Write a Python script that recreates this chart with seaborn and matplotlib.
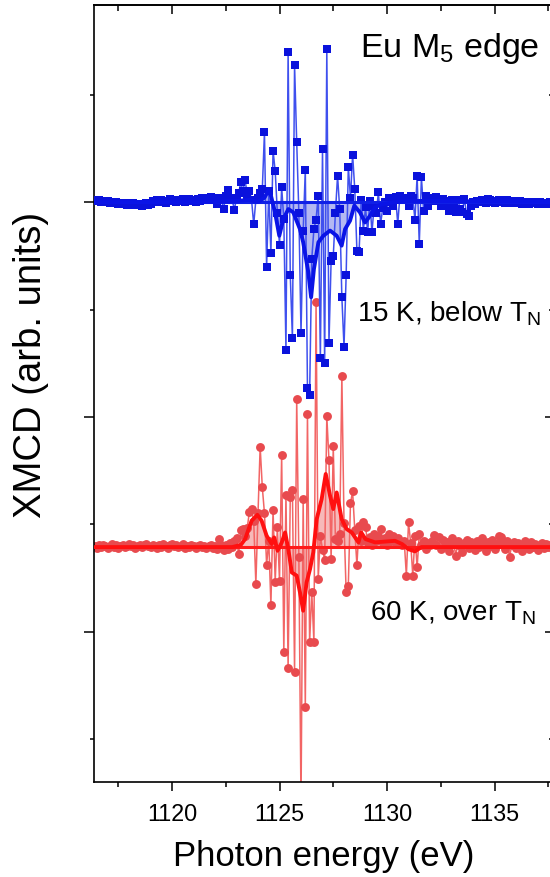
import numpy as np
import pandas as pd
import matplotlib
matplotlib.use("Agg")
import matplotlib.pyplot as plt
from matplotlib.ticker import MultipleLocator, NullFormatter
import seaborn as sns

# ---------------- data ----------------
E_START = 1116.4
E_STEP = 0.1

# 15 K (blue), XMCD values in arb. units, three consecutive energy segments
blue_left = [0.10, 0.05, 0.08, 0.02, 0.06, 0.00, 0.04, -0.03, 0.02, -0.05,
             -0.02, -0.08, -0.04, -0.10, -0.06, -0.12, -0.08, -0.14, -0.05, -0.10,
             -0.15, -0.08, -0.18, -0.10, -0.05, -0.15, -0.08, 0.05, -0.02, 0.08,
             0.02, 0.10, 0.04, -0.04, 0.06, 0.12, 0.03, 0.08, -0.02, 0.10,
             0.05, 0.12, 0.02, 0.08, 0.15, 0.05, 0.10, 0.00, 0.12, 0.06,
             0.18, 0.08, 0.20, 0.10, 0.25, 0.12]
blue_center = [0.10, -0.10, 0.20, 0.10, -0.33, 0.30, 0.56, 0.20, 0.10, -0.37,
               0.20, 0.40, 0.92, 0.50, 1.04, 0.30, 0.53, 0.10, -1.04, 0.10,
               0.20, 0.40, 0.60, 3.24, -3.04, 0.50, -2.39, 2.39, 1.43, -0.50,
               -1.99, 0.68, -0.80, -6.88, 6.99, -3.40, -6.33, 6.37, 2.78, -0.50,
               -6.09, -1.35, 1.50, -8.65, -9.00, -2.65, -1.26, -0.82, 0.30, -7.27,
               2.47, -7.49, 7.12, -6.56, -2.74, -2.53, -0.50, 1.22, -0.33, -4.43,
               -6.73, -3.40, 1.64, 0.20, 2.20, 0.60, -2.26, -2.34, 0.10, -1.33,
               -0.25, -1.41, 0.06, -1.41, -0.20, -0.50, 0.45, -1.02, -0.30, 0.00,
               -0.40, 0.20, 0.17, -0.20, 0.23, -1.02, 0.30, 0.10, 0.20, 0.15,
               -0.20, 0.30, 0.20, -0.84, 1.22, -1.95, 1.15, -0.40, 0.30, -0.20,
               0.20]
blue_right = [0.15, 0.05, 0.22, 0.10, -0.17, 0.12, 0.05, -0.05, -0.40, 0.08,
              -0.30, -0.45, 0.10, -0.33, -0.48, 0.14, -0.56, -0.64, -0.20, 0.02,
              -0.10, 0.05, 0.00, 0.10, 0.06, -0.05, 0.14, 0.08, 0.02, -0.06,
              0.05, 0.10, 0.00, 0.06, -0.04, 0.08, 0.02, -0.06, 0.04, 0.00,
              -0.05, 0.03, -0.08, 0.02, -0.04, -0.10, 0.00, -0.06, -0.02, -0.08,
              0.00, -0.05, -0.10, -0.04, -0.08, -0.02, -0.06]

# 60 K (red)
red_left = [0.05, -0.02, 0.08, 0.00, 0.10, 0.04, -0.04, 0.06, 0.12, 0.02,
            0.08, -0.05, 0.05, 0.10, 0.00, 0.07, 0.13, 0.03, 0.09, -0.03,
            0.05, 0.11, 0.02, 0.08, 0.15, 0.04, 0.00, 0.10, 0.06, -0.04,
            0.08, 0.02, 0.12, 0.05, -0.02, 0.09, 0.16, 0.04, 0.10, 0.00,
            0.06, 0.12, -0.03, 0.07, 0.02, 0.10, 0.05, -0.05, 0.04, 0.09,
            0.00, 0.06, -0.04, 0.03, 0.08, -0.02]
red_center = [0.05, -0.10, 0.37, 0.10, -0.15, 0.10, -0.10, 0.20, 0.00, 0.30,
              0.42, -0.33, 0.80, 0.84, 0.50, 0.90, 1.64, 1.77, 1.20, -1.72,
              1.57, 4.67, 2.78, 1.57, -0.82, 0.30, -2.70, 1.73, -1.61, 0.92,
              -1.57, 4.29, -4.90, 2.43, -5.64, 2.31, 2.65, -5.80, 6.88, -0.48,
              -12.0, 2.23, -7.46, 6.19, -4.43, -2.08, -4.43, 11.38, -1.49, 0.53,
              -0.12, -0.60, 6.08, 4.05, -0.56, 4.68, 0.37, 0.29, 0.60, 7.97,
              1.12, -2.11, -1.80, 2.03, 2.59, 0.80, -0.84, 0.99, 0.30, 1.18,
              0.94, 0.20, 0.45, 0.10, 0.60, 0.30, 0.50, 0.84, 0.20, 0.40,
              0.10, 0.60, 0.30, 0.50, 0.20, 0.40, 0.15, 0.10, 0.30, -1.33,
              1.15, 0.20, -1.33, 0.53, -0.95, 0.60, 0.10, 0.30, -0.10, 0.20,
              0.10]
red_right = [0.30, 0.55, 0.10, 0.46, -0.10, 0.35, 0.05, 0.25, -0.20, 0.40,
             0.15, -0.40, 0.30, 0.05, -0.23, 0.20, 0.35, -0.05, 0.25, 0.10,
             -0.15, 0.30, 0.00, 0.40, 0.10, -0.20, 0.25, 0.05, 0.35, -0.10,
             0.15, 0.50, 0.46, 0.20, -0.10, 0.30, -0.46, 0.10, 0.25, -0.05,
             0.20, 0.05, -0.20, 0.30, 0.10, -0.10, 0.25, 0.00, 0.15, -0.15,
             0.10, 0.20, -0.05, 0.15, 0.00, 0.10, -0.10]

# smoothed curves (energy, value)
blue_smooth_E = [1116.4, 1122.0, 1123.0, 1123.6, 1124.0, 1124.3, 1124.48, 1124.6, 1124.79,
                 1124.99, 1125.18, 1125.41, 1125.64, 1125.95, 1126.1, 1126.34, 1126.47,
                 1126.6, 1126.81, 1127.04, 1127.35, 1127.66, 1127.89, 1128.05, 1128.28,
                 1128.48, 1128.74, 1128.98, 1129.21, 1129.44, 1129.75, 1130.37, 1131.5, 1137.7]
blue_smooth_V = [0.0, 0.0, 0.05, 0.1, 0.0, 0.2, 0.53, 0.3, -0.48,
                 -1.57, -0.79, -0.33, -0.48, -1.26, -1.87, -3.27, -4.43,
                 -3.12, -1.87, -1.57, -1.33, -1.57, -2.03, -1.26, -0.87,
                 -0.17, -0.48, -0.95, -0.64, -0.25, -0.10, 0.0, 0.05, 0.0]
red_smooth_E = [1116.4, 1122.8, 1123.2, 1123.4, 1123.7, 1123.97, 1124.17, 1124.4, 1124.64,
                1124.75, 1124.91, 1125.1, 1125.26, 1125.41, 1125.57, 1125.8, 1125.95,
                1126.1, 1126.26, 1126.42, 1126.57, 1126.73, 1126.96, 1127.15, 1127.35,
                1127.5, 1127.66, 1127.89, 1128.12, 1128.36, 1128.67, 1128.8, 1129.0,
                1129.44, 1130.37, 1130.7, 1131.0, 1131.3, 1131.6, 1137.7]
red_smooth_V = [0.0, 0.0, 0.1, 0.37, 1.22, 1.5, 1.22, 0.53, 0.14,
                0.45, -0.17, 0.2, 0.68, -0.1, -1.18, -1.33, -2.1,
                -2.96, -1.64, -1.02, -0.25, 1.3, 2.23, 3.4, 2.39,
                1.77, 2.54, 1.3, 0.84, 0.68, 0.22, 0.68, 0.37,
                0.22, 0.29, 0.14, -0.1, -0.2, 0.0, 0.0]

BLUE_OFFSET = 20.0
RED_OFFSET = 3.95

labels = {"title": "Eu M$_{\\mathrm{5}}$ edge",
          "blue": "15 K, below T$_{\\mathrm{N}}$",
          "red": "60 K, over T$_{\\mathrm{N}}$",
          "xlabel": "Photon energy (eV)",
          "ylabel": "XMCD (arb. units)"}
x_major_ticks = [1120, 1125, 1130, 1135]

# ---------------- build frames ----------------
blue_vals = np.array(blue_left + blue_center + blue_right)
red_vals = np.array(red_left + red_center + red_right)
energy_b = np.round(E_START + E_STEP * np.arange(len(blue_vals)), 2)
energy_r = np.round(E_START + E_STEP * np.arange(len(red_vals)), 2)
df_blue = pd.DataFrame({"E": energy_b, "y": blue_vals + BLUE_OFFSET})
df_red = pd.DataFrame({"E": energy_r, "y": red_vals + RED_OFFSET})
sm_blue = pd.DataFrame({"E": blue_smooth_E, "y": np.array(blue_smooth_V) + BLUE_OFFSET})
sm_red = pd.DataFrame({"E": red_smooth_E, "y": np.array(red_smooth_V) + RED_OFFSET})

# ---------------- style ----------------
sns.set_theme(style="ticks")
plt.rcParams["font.family"] = ["Liberation Sans", "DejaVu Sans"]
plt.rcParams["mathtext.fontset"] = "custom"
plt.rcParams["mathtext.rm"] = "Liberation Sans"
plt.rcParams["mathtext.it"] = "Liberation Sans:italic"
plt.rcParams["axes.linewidth"] = 1.2
for key in ["text.color", "axes.labelcolor", "xtick.color", "ytick.color",
            "xtick.labelcolor", "ytick.labelcolor", "axes.edgecolor"]:
    plt.rcParams[key] = "black"

fig = plt.figure(figsize=(5.5, 8.78), dpi=100)
ax = fig.add_axes([94 / 550, 1 - 783 / 878, (553 - 94) / 550, (783 - 6) / 878])

# red (60 K)
ax.fill_between(sm_red["E"], RED_OFFSET, sm_red["y"], color="#f6b9b9", lw=0, zorder=1)
sns.lineplot(data=df_red, x="E", y="y", ax=ax, color="#f26565", lw=1.1,
             marker="o", markersize=6.4, mfc="#e84a4e", mec="#e84a4e", mew=0,
             estimator=None, sort=False, zorder=2)
ax.plot([E_START, 1137.8], [RED_OFFSET, RED_OFFSET], color="#ff1a1a", lw=2.2, zorder=3)
sns.lineplot(data=sm_red, x="E", y="y", ax=ax, color="#ff1010", lw=2.8,
             estimator=None, sort=False, zorder=4)

# blue (15 K)
ax.fill_between(sm_blue["E"], BLUE_OFFSET, sm_blue["y"], color="#b4b8f2", lw=0, zorder=5)
sns.lineplot(data=df_blue, x="E", y="y", ax=ax, color="#3f50ee", lw=1.1,
             marker="s", markersize=5.4, mfc="#0a12dc", mec="#0a12dc", mew=0,
             estimator=None, sort=False, zorder=6)
ax.plot([E_START, 1137.8], [BLUE_OFFSET, BLUE_OFFSET], color="#1020e6", lw=2.2, zorder=7)
sns.lineplot(data=sm_blue, x="E", y="y", ax=ax, color="#0a14e6", lw=2.8,
             estimator=None, sort=False, zorder=8)

# ---------------- axes ----------------
ax.set_xlim(1116.372, 1137.72)
ax.set_ylim(-6.977, 29.163)
ax.xaxis.set_minor_locator(MultipleLocator(2.5))
ax.set_xticks(x_major_ticks)
ax.yaxis.set_major_locator(MultipleLocator(10))
ax.yaxis.set_minor_locator(MultipleLocator(5))
ax.yaxis.set_major_formatter(NullFormatter())
ax.tick_params(axis="x", which="major", direction="out", length=6.5, width=1.1,
               labelsize=16.8, pad=8, colors="black")
ax.tick_params(axis="x", which="minor", direction="out", length=3.6, width=1.1)
ax.tick_params(axis="y", which="major", direction="out", length=7.5, width=1.1)
ax.tick_params(axis="y", which="minor", direction="out", length=3.0, width=1.1)
ax.spines["right"].set_visible(False)
for s in ["left", "bottom", "top"]:
    ax.spines[s].set_color("black")
    ax.spines[s].set_linewidth(1.2)

top = ax.secondary_xaxis("top")
top.xaxis.set_major_locator(MultipleLocator(5))
top.xaxis.set_minor_locator(MultipleLocator(2.5))
top.xaxis.set_major_formatter(NullFormatter())
top.tick_params(axis="x", which="major", direction="in", length=6.5, width=1.1)
top.tick_params(axis="x", which="minor", direction="in", length=4.0, width=1.1)

right = ax.secondary_yaxis("right")
right.yaxis.set_major_locator(MultipleLocator(10))
right.yaxis.set_minor_locator(MultipleLocator(5))
right.yaxis.set_major_formatter(NullFormatter())
right.tick_params(axis="y", which="major", direction="in", length=6.0, width=1.1)
right.tick_params(axis="y", which="minor", direction="in", length=3.0, width=1.1)
right.spines["right"].set_color("black")

ax.set_xlabel(labels["xlabel"], fontsize=25, labelpad=10)
ax.set_ylabel(labels["ylabel"], fontsize=27.5)
ax.yaxis.label.set_verticalalignment("center")
ax.yaxis.set_label_coords((31 - 94) / 459, (783 - 365) / 777)

ax.text(1128.74, 26.8, labels["title"], fontsize=24.5, color="black", ha="left", va="baseline")
ax.text(1128.62, 14.5, labels["blue"], fontsize=20.0, color="black", ha="left", va="baseline")
ax.text(1129.22, 0.56, labels["red"], fontsize=20.0, color="black", ha="left", va="baseline")

fig.savefig("out.png", dpi=100)
